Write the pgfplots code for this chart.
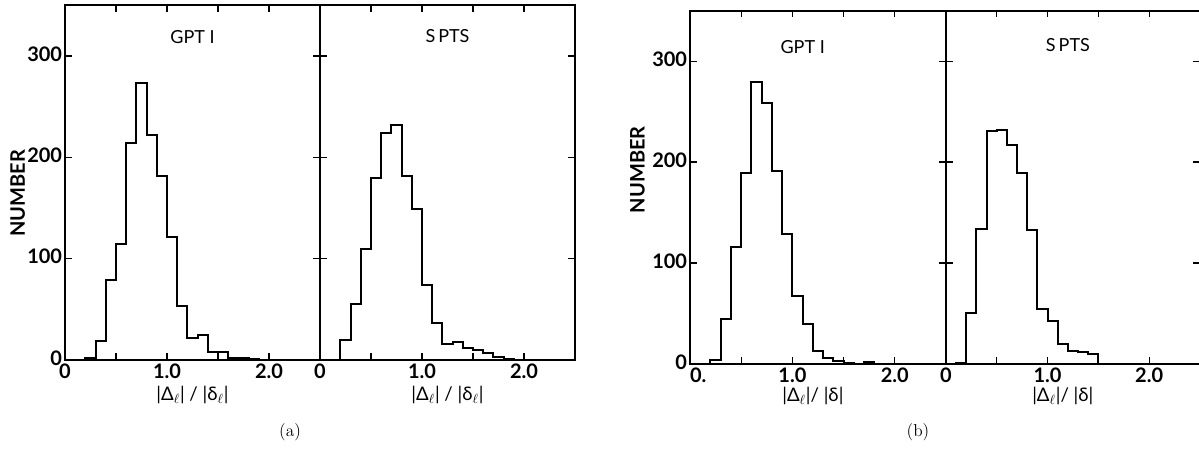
\documentclass[border=0pt]{standalone}
\usepackage{pgfplots}
\pgfplotsset{compat=1.18}
\usepackage{fontspec}
\newfontfamily\lab{Lato}

\pgfplotsset{
  hist/.style={
    scale only axis,
    xmin=0, xmax=2.5, ymin=0, ymax=350,
    axis line style={line width=1.4pt},
    every tick/.style={black, line width=0.9pt},
    major tick length=5pt, minor tick length=5pt,
    tick align=inside,
    xtick={0,1,2}, minor xtick={0.5,1.5},
    ytick={0,100,200,300},
    ticklabel style={font=\lab\bfseries\fontsize{15}{15}\selectfont},
    xticklabel style={inner sep=1pt, yshift=-1.5pt},
    yticklabel style={inner sep=2pt, yshift=1.5pt},
    label style={font=\lab\fontsize{14}{14}\selectfont},
    ylabel style={font=\lab\bfseries\fontsize{15}{15}\selectfont, anchor=center},
    xlabel style={anchor=center},
  },
}
\tikzset{
  bars/.style={const plot, black, line width=1.5pt},
  ttl/.style={font=\lab\fontsize{13.5}{14}\selectfont},
}

\begin{document}
\begin{tikzpicture}
\useasboundingbox (0,0) rectangle (899.25pt,338.25pt);

% (a) GPT I
\begin{axis}[hist, at={(48.75pt,68.25pt)}, anchor=south west,
  width=191.25pt, height=266pt,
  xticklabels={0,1.0,2.0}, yticklabels={0,100,200,300},
  ylabel={NUMBER}, ylabel style={at={(axis description cs:-0.185,0.47)}},
  xlabel={|Δ\textsubscript{$\ell$}| / |δ\textsubscript{$\ell$}|},
  xlabel style={at={(axis description cs:0.5,-0.1)}}]
\addplot[bars] coordinates {(0,0)(0.2,2)(0.3,19)(0.4,79)(0.5,114)(0.6,214)(0.7,273)(0.8,222)(0.9,182)(1.0,121)(1.1,53)(1.2,22)(1.3,25)(1.4,8)(1.5,8)(1.6,2)(1.7,2)(1.8,1)(1.9,0)(2.5,0)};
\node[ttl] at (axis cs:1.25,319) {GPT I};
\end{axis}

% (a) SPTS
\begin{axis}[hist, at={(240pt,68.25pt)}, anchor=south west,
  width=191.25pt, height=266pt,
  xticklabels={0,1.0,2.0}, yticklabels={},
  xlabel={|Δ\textsubscript{$\ell$}| / |δ\textsubscript{$\ell$}|},
  xlabel style={at={(axis description cs:0.5,-0.1)}}]
\addplot[bars] coordinates {(0,0)(0.2,20)(0.3,55)(0.4,110)(0.5,180)(0.6,224)(0.7,232)(0.8,182)(0.9,149)(1.0,74)(1.1,37)(1.2,16)(1.3,18)(1.4,12)(1.5,10)(1.6,7)(1.7,3)(1.8,1)(1.9,0)(2.5,0)};
\node[ttl] at (axis cs:1.25,320) {S\,PTS};
\end{axis}

% (b) GPT I
\begin{axis}[hist, at={(517.5pt,65.25pt)}, anchor=south west,
  width=192pt, height=265pt,
  xticklabels={\makebox[0pt][l]{0.},1.0,2.0}, yticklabels={0,100,200,300},
  ylabel={NUMBER}, ylabel style={at={(axis description cs:-0.205,0.55)}},
  xlabel={|Δ\textsubscript{$\ell$}|/ |δ|},
  xlabel style={at={(axis description cs:0.48,-0.09)}}]
\addplot[bars] coordinates {(0,0)(0.2,4)(0.3,45)(0.4,116)(0.5,189)(0.6,279)(0.7,259)(0.8,191)(0.9,129)(1.0,67)(1.1,40)(1.2,13)(1.3,6)(1.4,3)(1.5,1)(1.6,0.5)(1.7,2)(1.8,0)(2.5,0)};
\node[ttl] at (axis cs:1.1,314) {GPT I};
\end{axis}

% (b) SPTS
\begin{axis}[hist, at={(709.5pt,65.25pt)}, anchor=south west,
  width=190.5pt, height=265pt,
  xticklabels={0,1.0,2.0}, yticklabels={},
  xlabel={|Δ\textsubscript{$\ell$}|/ |δ|},
  xlabel style={at={(axis description cs:0.46,-0.09)}}]
\addplot[bars] coordinates {(0,0)(0.1,1)(0.2,51)(0.3,134)(0.4,231)(0.5,232)(0.6,217)(0.7,189)(0.8,133)(0.9,54)(1.0,43)(1.1,20)(1.2,13)(1.3,12)(1.4,10)(1.5,0)(2.5,0)};
\node[ttl] at (axis cs:1.2,316) {S\,PTS};
\end{axis}

\node[font=\fontsize{13}{14}\selectfont] at (217.5pt,14.25pt) {(a)};
\node[font=\fontsize{13}{14}\selectfont] at (688.5pt,14.25pt) {(b)};
\end{tikzpicture}
\end{document}
